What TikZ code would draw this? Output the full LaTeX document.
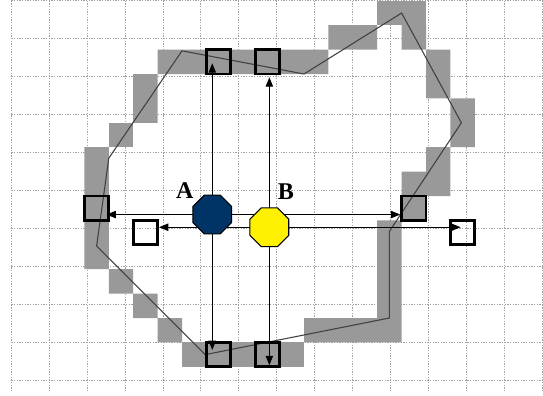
\documentclass[tikz,border=0pt]{standalone}
\usepackage{fontspec}
\setmainfont{Liberation Serif}
\usepackage{xcolor}
\usepackage{tikz}
\usetikzlibrary{shapes.geometric, arrows.meta, calc}
\definecolor{cellgray}{HTML}{999999}
\definecolor{gridgray}{HTML}{A0A0A0}
\definecolor{navyA}{HTML}{003366}

\begin{document}
\begin{tikzpicture}[
  x=18.3pt, y=18.3pt, yscale=-1,
  gridline/.style={gridgray, line width=0.6pt, dash pattern=on 1pt off 1pt},
  cell/.style={fill=cellgray},
  outline/.style={draw=black!75, line width=0.8pt},
  probe/.style={draw, line width=2pt, minimum size=18.3pt, inner sep=0pt},
  robot/.style={draw, regular polygon, regular polygon sides=8,
                minimum size=31.5pt, inner sep=0pt, line width=0.8pt},
  arrow/.style={-{Triangle[length=7pt, width=5.5pt]}, line width=0.75pt},
  tag/.style={font=\fontsize{18}{21}\selectfont\bfseries}
]
  \useasboundingbox (-0.459,-0.033) rectangle (21.795,16.156);
  \clip (-0.459,-0.033) rectangle (21.795,16.156);
  \draw[gridline] (0,0) grid (22,16);
  % occupied cells along the boundary
  \fill[cell] (15,0) rectangle (17,1);
  \fill[cell] (13,1) rectangle (15,2) (16,1) rectangle (17,2);
  \fill[cell] (6,2) rectangle (13,3) (17,2) rectangle (18,4);
  \fill[cell] (5,3) rectangle (6,5) (18,4) rectangle (19,6);
  \fill[cell] (4,5) rectangle (5,6);
  \fill[cell] (3,6) rectangle (4,11) (17,6) rectangle (18,8) (16,7) rectangle (17,9);
  \fill[cell] (15,9) rectangle (16,14) (12,13) rectangle (15,14);
  \fill[cell] (4,11) rectangle (5,12) (5,12) rectangle (6,13) (6,13) rectangle (7,14);
  \fill[cell] (7,14) rectangle (12,15);
  \draw[outline] (7,2.05) -- (12,3) -- (16,0.5) -- (18.45,5) -- (15.5,9.45)
    -- (15.5,13) -- (7.95,14.5) -- (3.5,10.05) -- (4,6.45) -- cycle;
  \node[probe] (sqAN) at (8.5,2.5) {};
  \node[probe] (sqBN) at (10.5,2.5) {};
  \node[probe] (sqAW) at (3.5,8.5) {};
  \node[probe] (sqAE) at (16.5,8.5) {};
  \node[probe] (sqAS) at (8.5,14.5) {};
  \node[probe] (sqBS) at (10.5,14.5) {};
  \node[probe] (sqBW) at (5.5,9.5) {};
  \node[probe] (sqBE) at (18.5,9.5) {};
  \coordinate (a) at (8.24,8.76);
  \coordinate (b) at (10.58,9.28);
  \draw[arrow] (a) -- ($(a |- sqAN)+(0,0.06)$);
  \draw[arrow] (a) -- ($(a |- sqAS)+(0,-0.19)$);
  \draw[arrow] (a) -- ($(a -| sqAW.east)+(-0.15,0)$);
  \draw[arrow] (a) -- (a -| sqAE.west);
  \draw[arrow] (b) -- ($(b |- sqBN.south)+(0,0.08)$);
  \draw[arrow] (b) -- ($(b |- sqBS.south)+(0,-0.12)$);
  \draw[arrow] (b) -- (b -| sqBW.east);
  \draw[arrow] (b) -- ($(b -| sqBE)+(-0.08,0)$);
  \node[robot, fill=navyA] (A) at (a) {};
  \node[robot, fill=yellow] (B) at (b) {};
  \node[tag] (labA) at (7.11,7.77) {A};
  \node[tag] (labB) at (11.26,7.84) {B};
\end{tikzpicture}
\end{document}
